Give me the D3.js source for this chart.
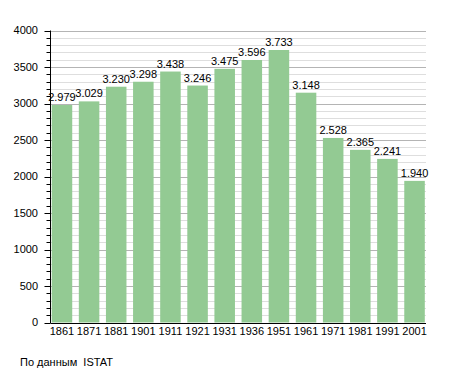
<!DOCTYPE html>
<html>
<head>
<meta charset="utf-8">
<script src="https://cdn.jsdelivr.net/npm/d3@7"></script>
<style>
  body { margin: 0; background: #fff; }
  svg text { font-family: "Liberation Sans", Arial, sans-serif; font-size: 11px; fill: #000; }
</style>
</head>
<body>
<svg class="plot" width="455" height="373"></svg>
<script>
const years = ['1861', '1871', '1881', '1901', '1911', '1921', '1931', '1936', '1951', '1961', '1971', '1981', '1991', '2001'];
const population = [2979, 3029, 3230, 3298, 3438, 3246, 3475, 3596, 3733, 3148, 2528, 2365, 2241, 1940];
const valueLabels = ['2.979', '3.029', '3.230', '3.298', '3.438', '3.246', '3.475', '3.596', '3.733', '3.148', '2.528', '2.365', '2.241', '1.940'];
const yTicks = [0, 500, 1000, 1500, 2000, 2500, 3000, 3500, 4000];
const sourceNote = 'По данным  ISTAT';

const m = {l: 50.5, r: 426, t: 30.5, b: 322.5};

const plot = d3.select('.plot');

const xS = d3.scaleBand().domain(years)
  .range([51.7, 424.8]).paddingInner(0.243).paddingOuter(0).align(0);
const yS = d3.scaleLinear().domain([0, 4000]).range([m.b, m.t]);

// grid lines, every 100, darker every 500
const minor = d3.range(100, 4001, 100);
plot.append('g').selectAll('line').data(minor)
  .join('line')
  .attr('x1', m.l).attr('x2', m.r)
  .attr('y1', d => Math.round(yS(d)) + 0.5).attr('y2', d => Math.round(yS(d)) + 0.5)
  .attr('stroke', d => d % 500 === 0 ? '#b4b4b4' : '#dedede')
  .attr('stroke-width', 1);

// bars
plot.append('g').selectAll('rect').data(population)
  .join('rect')
  .attr('x', (d, i) => xS(years[i]))
  .attr('width', xS.bandwidth())
  .attr('y', d => yS(d))
  .attr('height', d => yS(0) - yS(d))
  .attr('fill', '#93ca93');

// value labels
plot.append('g').selectAll('text').data(population)
  .join('text')
  .attr('x', (d, i) => xS(years[i]) + xS.bandwidth() / 2)
  .attr('y', d => yS(d) - 4)
  .attr('text-anchor', 'middle')
  .text((d, i) => valueLabels[i]);

// y axis: minor ticks every 100, major every 500
const yAxis = plot.append('g');
yAxis.selectAll('line.tk').data(minor.concat([0]))
  .join('line')
  .attr('class', 'tk')
  .attr('x1', d => d % 500 === 0 ? m.l - 6 : m.l - 4)
  .attr('x2', m.l)
  .attr('y1', d => Math.round(yS(d)) + 0.5).attr('y2', d => Math.round(yS(d)) + 0.5)
  .attr('stroke', '#000');
yAxis.append('line')
  .attr('x1', m.l).attr('x2', m.l)
  .attr('y1', m.t).attr('y2', m.b + 0.5)
  .attr('stroke', '#000');
yAxis.selectAll('text').data(yTicks)
  .join('text')
  .attr('x', 38)
  .attr('y', d => yS(d))
  .attr('dy', '0.35em')
  .attr('text-anchor', 'end')
  .text(d => d);

// x axis
plot.append('line')
  .attr('x1', m.l).attr('x2', m.r)
  .attr('y1', Math.round(m.b) + 0.5).attr('y2', Math.round(m.b) + 0.5)
  .attr('stroke', '#000');
plot.append('g').selectAll('text').data(years)
  .join('text')
  .attr('x', d => xS(d) + xS.bandwidth() / 2)
  .attr('y', 335)
  .attr('text-anchor', 'middle')
  .text(d => d);

plot.append('text')
  .attr('x', 20).attr('y', 366)
  .style('white-space', 'pre')
  .attr('xml:space', 'preserve')
  .text(sourceNote);
</script>
</body>
</html>
